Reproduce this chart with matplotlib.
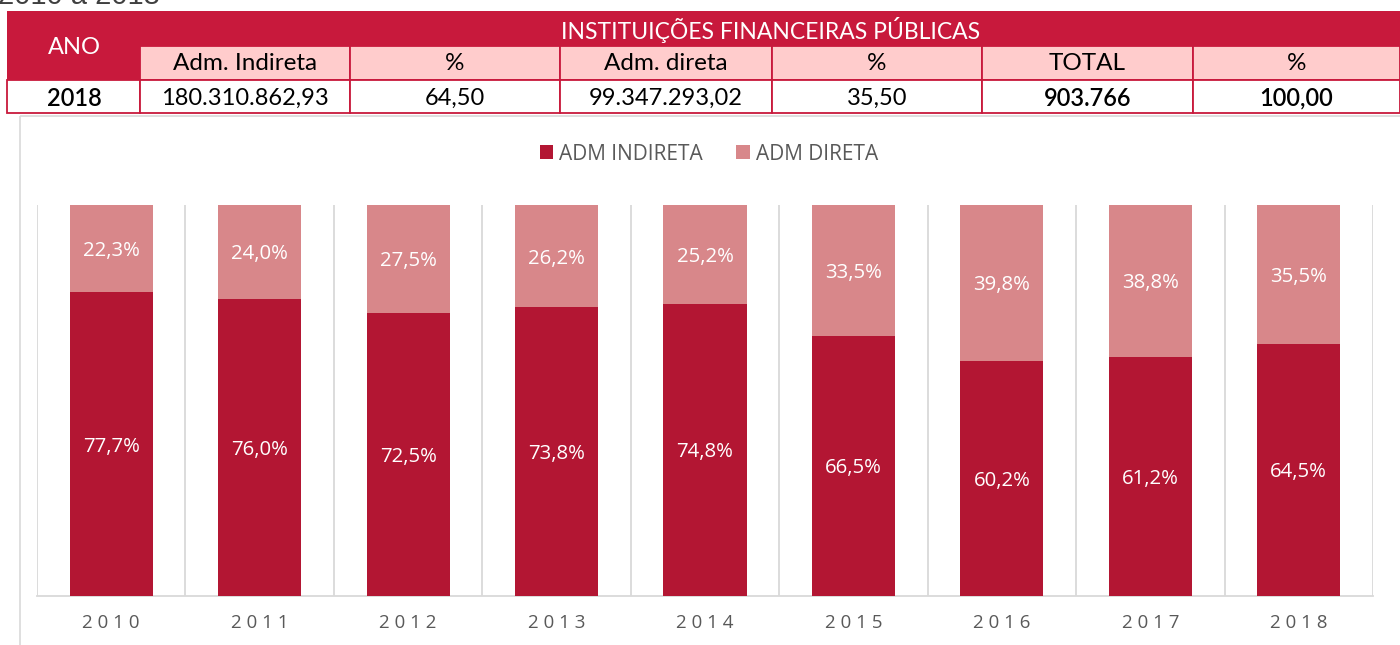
import numpy as np
import matplotlib
matplotlib.use("Agg")
import matplotlib.pyplot as plt
from matplotlib.patches import Rectangle

# Dados do gráfico
anos = [2010, 2011, 2012, 2013, 2014, 2015, 2016, 2017, 2018]
adm_indireta = [77.7, 76.0, 72.5, 73.8, 74.8, 66.5, 60.2, 61.2, 64.5]
adm_direta = [22.3, 24.0, 27.5, 26.2, 25.2, 33.5, 39.8, 38.8, 35.5]
series = ["ADM INDIRETA", "ADM DIRETA"]

# Dados da tabela
titulo_tabela = "INSTITUIÇÕES FINANCEIRAS PÚBLICAS"
cabecalho = ["Adm. Indireta", "%", "Adm. direta", "%", "TOTAL", "%"]
linha_ano = "2018"
linha = ["180.310.862,93", "64,50", "99.347.293,02", "35,50", "903.766", "100,00"]
negrito = [False, False, False, False, True, True]

vermelho = "#C8193C"
rosa = "#FFCCCC"
escuro = "#B31633"
claro = "#D8878A"
cinza = "#595959"

W, H = 1400, 645
fig = plt.figure(figsize=(14, 6.45), dpi=100)

# Eixo de fundo em pixels para a tabela
bg = fig.add_axes([0, 0, 1, 1])
bg.set_xlim(0, W)
bg.set_ylim(H, 0)
bg.axis("off")

fnt = "Lato"
bg.text(-2, 4, "2010 a 2018", fontsize=21, color="#404040", family="Liberation Sans", va="baseline")

# Cabeçalho vermelho
bg.add_patch(Rectangle((7, 11), W - 7, 35, facecolor=vermelho, edgecolor="none"))
bg.add_patch(Rectangle((7, 11), 133, 69, facecolor=vermelho, edgecolor="none"))
bg.text(771, 30, titulo_tabela, fontsize=16.5, color="white", family=fnt, ha="center", va="center")
bg.text(74, 47, "ANO", fontsize=17, color="white", family=fnt, ha="center", va="center")

xs = [140, 350, 560, 772, 982, 1193, 1400]
for i, txt in enumerate(cabecalho):
    bg.add_patch(Rectangle((xs[i], 46), xs[i + 1] - xs[i], 34, facecolor=rosa,
                           edgecolor=vermelho, lw=1.3))
    bg.text((xs[i] + xs[i + 1]) / 2, 64, txt, fontsize=17.5, color="black", family=fnt,
            ha="center", va="center")

# Linha de dados
bg.add_patch(Rectangle((7, 80), 133, 33, facecolor="white", edgecolor=vermelho, lw=1.3))
bg.text(74, 98, linha_ano, fontsize=17, color="black", family=fnt, ha="center",
        va="center", fontweight="semibold")
for i, txt in enumerate(linha):
    bg.add_patch(Rectangle((xs[i], 80), xs[i + 1] - xs[i], 33, facecolor="white",
                           edgecolor=vermelho, lw=1.3))
    bg.text((xs[i] + xs[i + 1]) / 2, 98, txt, fontsize=17, color="black", family=fnt,
            ha="center", va="center", fontweight="semibold" if negrito[i] else "normal")

# Moldura da área do gráfico
bg.add_patch(Rectangle((20, 116), W, H, facecolor="none", edgecolor="#D9D9D9", lw=1.2))

# Gráfico de barras empilhadas
ax = fig.add_axes([37 / W, 1 - 596 / H, (1373 - 37) / W, (596 - 205) / H])
x = np.arange(len(anos))
larg = 0.56
b1 = ax.bar(x, adm_indireta, larg, color=escuro, label=series[0], zorder=3)
b2 = ax.bar(x, adm_direta, larg, bottom=adm_indireta, color=claro, label=series[1], zorder=3)

for i in range(len(anos)):
    ax.text(x[i], adm_indireta[i] / 2, f"{adm_indireta[i]:.1f}%".replace(".", ","),
            ha="center", va="center_baseline", color="white", fontsize=14.7,
            family="Open Sans", zorder=4)
    ax.text(x[i], adm_indireta[i] + adm_direta[i] / 2, f"{adm_direta[i]:.1f}%".replace(".", ","),
            ha="center", va="center_baseline", color="white", fontsize=14.7,
            family="Open Sans", zorder=4)

ax.set_xlim(-0.5, len(anos) - 0.5)
ax.set_ylim(0, 100)
ax.set_yticks([])
for g in np.arange(-0.5, len(anos), 1.0):
    ax.axvline(g, color="#D9D9D9", lw=1.3, zorder=1)
ax.set_xticks(x)
ax.set_xticklabels([" ".join(str(a)) for a in anos], fontsize=13.5, color=cinza, family="Open Sans")
ax.tick_params(axis="x", length=0, pad=13)
for s in ["top", "left", "right"]:
    ax.spines[s].set_visible(False)
ax.spines["bottom"].set_color("#D9D9D9")
ax.spines["bottom"].set_linewidth(1.3)

fig.legend(handles=[b1, b2], labels=series, loc="center", bbox_to_anchor=(709 / W, 1 - 154 / H),
           ncol=2, frameon=False, prop={"family": "Open Sans", "size": 15}, labelcolor=cinza,
           handlelength=0.65, handleheight=0.65, handletextpad=0.3, columnspacing=1.6)

fig.savefig("out.png", dpi=100)
